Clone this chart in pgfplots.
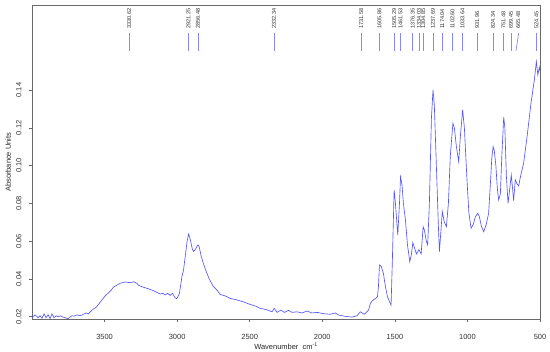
\documentclass[border=0pt]{standalone}
\usepackage{pgfplots}
\pgfplotsset{compat=1.18}
\usepackage{pgfplotstable}
\usepackage{fontspec}
\setmainfont{Liberation Sans}
\definecolor{spec}{RGB}{85,85,255}
\definecolor{peakline}{RGB}{135,135,255}
\definecolor{frame}{RGB}{105,105,105}

\pgfplotstableread{
wn ab
4000 0.0195
3979 0.0210
3958 0.0195
3944 0.0205
3931 0.0192
3917 0.0215
3903 0.0195
3889 0.0210
3875 0.0190
3862 0.0215
3848 0.0195
3834 0.0205
3820 0.0200
3806 0.0205
3786 0.0198
3765 0.0193
3751 0.0190
3738 0.0198
3724 0.0205
3710 0.0203
3689 0.0210
3669 0.0205
3648 0.0212
3627 0.0220
3613 0.0215
3600 0.0225
3579 0.0240
3558 0.0250
3537 0.0270
3517 0.0290
3496 0.0310
3475 0.0325
3455 0.0340
3441 0.0355
3420 0.0365
3393 0.0377
3358 0.0384
3324 0.0380
3301 0.0385
3277 0.0377
3266 0.0366
3232 0.0356
3198 0.0348
3163 0.0338
3135 0.0327
3117 0.0320
3098 0.0324
3082 0.0315
3067 0.0324
3048 0.0313
3032 0.0324
3013 0.0299
3002 0.0295
2984 0.0324
2967 0.0412
2956 0.0447
2944 0.0520
2931 0.0600
2921 0.0638
2910 0.0610
2896 0.0560
2887 0.0545
2876 0.0555
2857 0.0580
2848 0.0570
2834 0.0520
2820 0.0483
2800 0.0440
2779 0.0400
2751 0.0360
2724 0.0340
2703 0.0318
2669 0.0310
2634 0.0297
2593 0.0290
2545 0.0279
2496 0.0265
2455 0.0255
2427 0.0244
2381 0.0237
2347 0.0226
2331 0.0244
2312 0.0223
2285 0.0235
2262 0.0223
2232 0.0234
2209 0.0223
2174 0.0226
2140 0.0220
2105 0.0230
2071 0.0220
2036 0.0223
1991 0.0216
1945 0.0213
1910 0.0220
1888 0.0209
1841 0.0202
1795 0.0198
1761 0.0205
1738 0.0226
1710 0.0213
1681 0.0235
1669 0.0270
1655 0.0285
1634 0.0296
1620 0.0306
1613 0.0360
1606 0.0474
1593 0.0465
1579 0.0430
1565 0.0360
1551 0.0306
1537 0.0280
1526 0.0262
1517 0.0500
1505 0.0870
1496 0.0800
1480 0.0633
1468 0.0800
1461 0.0940
1451 0.0900
1441 0.0800
1427 0.0712
1413 0.0580
1397 0.0491
1386 0.0530
1376 0.0592
1365 0.0565
1351 0.0532
1334 0.0555
1319 0.0532
1305 0.0676
1297 0.0660
1283 0.0600
1274 0.0580
1262 0.0800
1248 0.1250
1237 0.1400
1228 0.1320
1214 0.1000
1200 0.0680
1193 0.0544
1183 0.0650
1173 0.0756
1159 0.0700
1145 0.0676
1131 0.0800
1118 0.1050
1100 0.1224
1090 0.1200
1076 0.1100
1060 0.1020
1049 0.1150
1033 0.1295
1021 0.1200
1003 0.0924
990 0.0750
975 0.0668
959 0.0690
945 0.0730
929 0.0747
918 0.0730
904 0.0680
888 0.0650
870 0.0690
854 0.0747
842 0.0900
832 0.1040
823 0.1100
815 0.1080
804 0.1000
794 0.0880
785 0.0818
773 0.0850
763 0.1050
750 0.1256
742 0.1200
732 0.0950
720 0.0800
708 0.0880
698 0.0950
689 0.0880
682 0.0814
670 0.0924
660 0.0905
647 0.0892
635 0.0940
613 0.1012
589 0.1153
562 0.1330
539 0.1453
525 0.1550
515 0.1480
504 0.1520
500 0.1500
}\spectrum

\pgfplotstableread{
wn y lx ly lab
3330.62 0.1655 3330.62 0.1723 3330.62
2921.25 0.1655 2921.25 0.1723 2921.25
2856.48 0.1655 2856.48 0.1723 2856.48
2332.34 0.1655 2332.34 0.1723 2332.34
1731.58 0.1655 1731.58 0.1723 1731.58
1605.86 0.1655 1605.86 0.1723 1605.86
1505.29 0.1655 1505.29 0.1723 1505.29
1461.53 0.1655 1461.53 0.1723 1461.53
1376.35 0.1655 1376.35 0.1723 1376.35
1334.03 0.1655 1334.03 0.1723 1334.03
1304.85 0.1655 1304.85 0.1723 1304.85
1237.69 0.1655 1237.69 0.1723 1237.69
1174.04 0.1655 1174.04 0.1723 1174.04
1102.60 0.1655 1102.60 0.1723 1102.60
1033.64 0.1655 1033.64 0.1723 1033.64
931.96 0.1655 931.96 0.1723 931.96
824.34 0.1655 824.34 0.1723 824.34
751.48 0.1655 751.48 0.1723 751.48
699.45 0.1655 699.45 0.1723 699.45
524.45 0.1655 524.45 0.1723 524.45
}\peaks

\begin{document}
\begin{tikzpicture}
\path[use as bounding box] (-32bp,-33bp) rectangle (518bp,319bp);
\begin{axis}[
  at={(0,0)}, anchor=south west,
  scale only axis, width=508bp, height=313.5bp,
  x dir=reverse,
  xmin=500, xmax=4000, ymin=0.0188, ymax=0.1847,
  axis line style={frame, line width=0.6bp},
  xtick={500,1000,1500,2000,2500,3000,3500},
  xticklabels={500,1000,1500,2000,2500,3000,3500},
  ytick={0.02,0.04,0.06,0.08,0.10,0.12,0.14},
  yticklabels={0.02,0.04,0.06,0.08,0.10,0.12,0.14},
  tick align=outside, major tick length=3bp,
  tick style={frame, line width=0.5bp},
  xtick pos=bottom, ytick pos=left,
  ticklabel style={font=\fontsize{7.5}{9}\selectfont, text=black!80},
  xticklabel style={anchor=center, yshift=-15bp},
  yticklabel style={rotate=90, anchor=south},
  yticklabel shift=4bp,
  xlabel={Wavenumber\ \ cm\textsuperscript{-1}},
  ylabel={Absorbance Units},
  label style={font=\fontsize{7.5}{9}\selectfont, text=black!85},
  xlabel style={at={(axis description cs:0.5,-0.087)}, anchor=center},
  ylabel style={at={(axis description cs:-0.0467,0.5)}, anchor=center},
  clip=true,
]
\addplot[spec, line width=0.65bp, no marks] table[x=wn, y=ab] {\spectrum};
\addplot[peakline, only marks, mark=|, mark size=9bp, mark options={line width=0.7bp}] table[x=wn, y=y] {\peaks};
\addplot[peakline, line width=0.7bp, no marks] coordinates {(647,0.1702) (665.48,0.1607)};
\addplot[draw=none, no marks, nodes near coords, point meta=explicit symbolic,
  nodes near coords style={rotate=90, anchor=west, inner sep=0pt, font=\fontsize{5.6}{6}\selectfont, text=black!80}]
  table[x=lx, y=ly, meta=lab] {\peaks};
\addplot[draw=none, no marks, nodes near coords, point meta=explicit symbolic,
  nodes near coords style={rotate=90, anchor=west, inner sep=0pt, font=\fontsize{5.6}{6}\selectfont, text=black!80}]
  coordinates {(651,0.1723) [665.48]};
\end{axis}
\end{tikzpicture}
\end{document}
